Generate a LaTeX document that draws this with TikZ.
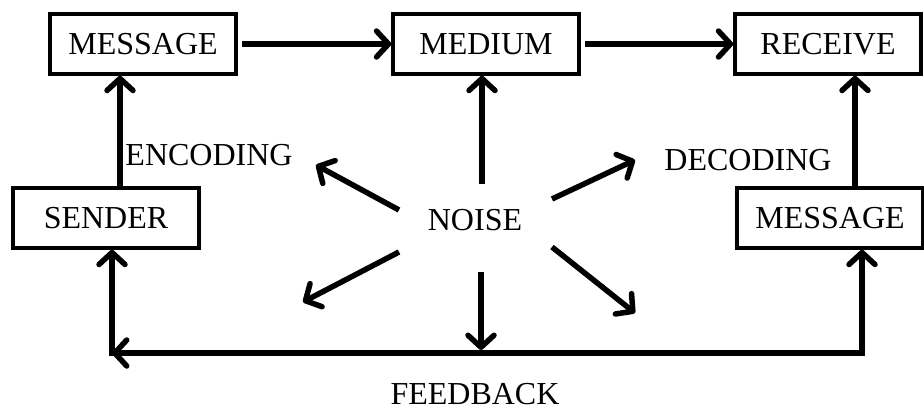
\documentclass[tikz,border=0pt]{standalone}
\usepackage{fontspec}
\setmainfont{Liberation Serif}
\usetikzlibrary{arrows.meta}
\begin{document}
\begin{tikzpicture}[x=1pt,y=-1pt,
  box/.style={draw,line width=3.5pt,minimum width=186pt,minimum height=60pt,inner sep=0pt,font=\fontsize{32}{38}\selectfont},
  lbl/.style={inner sep=0pt,font=\fontsize{32}{38}\selectfont},
  arr/.style={line width=5.5pt,-{Straight Barb[length=12pt,width=26pt,line cap=round,line join=round]}},
  ln/.style={line width=5.5pt}]
\useasboundingbox (0,0) rectangle (924,410);
\node[box] (msg1) at (143,44) {MESSAGE};
\node[box] (medium) at (486,44) {MEDIUM};
\node[box] (receive) at (828,44) {RECEIVE};
\node[box] (sender) at (106,218) {SENDER};
\node[box] (msg2) at (830,218) {MESSAGE};
\node[lbl] (noise) at (475,220) {NOISE};
\node[lbl] (enc) at (209,155) {ENCODING};
\node[lbl] (dec) at (748,160) {DECODING};
\node[lbl] (fb) at (475,394) {FEEDBACK};
% helper coordinates
\coordinate (xl) at (120,0);
\coordinate (xr) at (855,0);
\coordinate (xn) at (482,0);
\coordinate (fl) at (112,353);
\coordinate (fr) at (862,353);
\coordinate (nu) at (482,184);
\coordinate (nd) at (481,272);
\coordinate (fbm) at (481,350);
\coordinate (ul0) at (399,210);
\coordinate (ul1) at (316,165);
\coordinate (ur0) at (552,199);
\coordinate (ur1) at (635,160);
\coordinate (ll0) at (399,252);
\coordinate (ll1) at (303,302);
\coordinate (lr0) at (552,247);
\coordinate (lr1) at (635,313);
% top flow
\draw[arr] (msg1.east) ++(4,0) -- (medium.west);
\draw[arr] (medium.east) ++(4,0) -- (receive.west);
\draw[arr] (sender.north -| xl) -- (msg1.south -| xl);
\draw[arr] (msg2.north -| xr) -- (receive.south -| xr);
% noise arrows
\draw[arr] (nu) -- (medium.south -| xn);
\draw[arr] (nd) -- (fbm);
\draw[arr] (ul0) -- (ul1);
\draw[arr] (ur0) -- (ur1);
\draw[arr] (ll0) -- (ll1);
\draw[arr] (lr0) -- (lr1);
% feedback
\draw[arr] (fr) -- (fl);
\draw[arr] (fl) ++(0,2.75) -- (sender.south -| fl);
\draw[arr] (fr) ++(0,2.75) -- (msg2.south -| fr);
\end{tikzpicture}
\end{document}
